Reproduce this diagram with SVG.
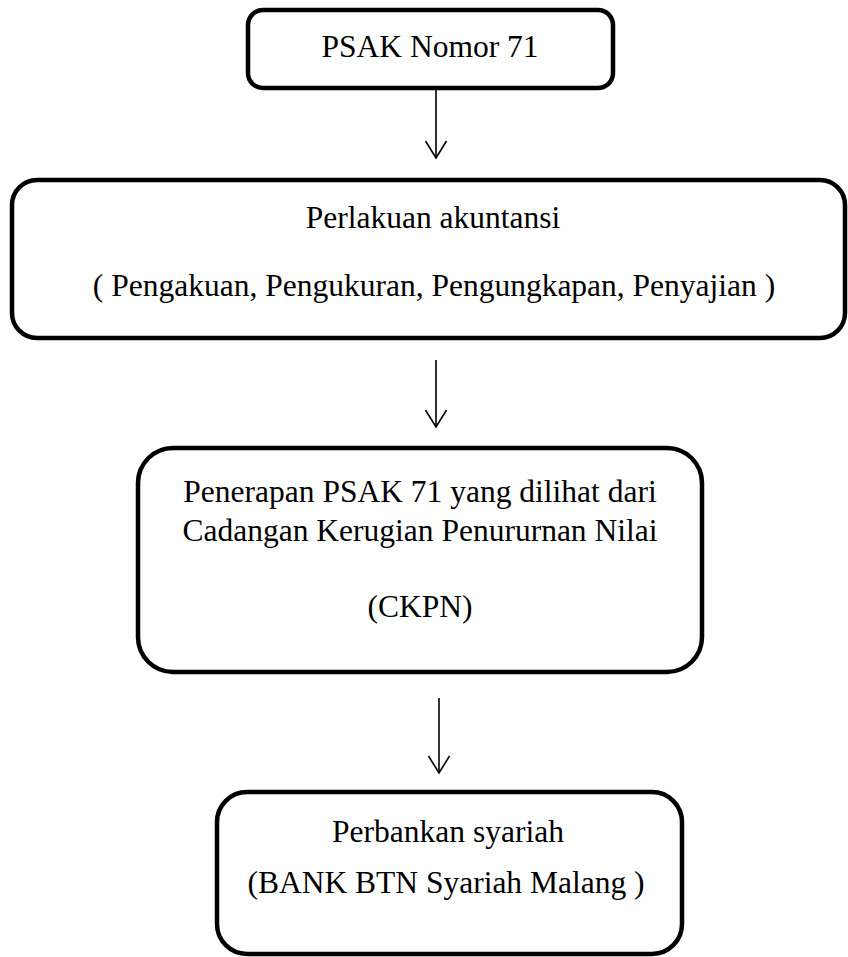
<svg xmlns="http://www.w3.org/2000/svg" width="848" height="957" viewBox="0 0 848 957">
<defs>
<style>
.box{fill:#fff;stroke:#000;stroke-width:4.5}
.t{font-family:"Liberation Serif","Times New Roman",serif;font-size:31.5px;fill:#000;text-anchor:middle}
.c{stroke:#000;stroke-width:1.6;fill:none}
</style>
<marker id="ah" markerWidth="24" markerHeight="20" viewBox="-12 -18 24 20" refX="0" refY="0" orient="auto" markerUnits="userSpaceOnUse">
<path d="M-10.5,-17 L0,0 L10.5,-17" fill="none" stroke="#000" stroke-width="1.6"/>
</marker>
</defs>
<rect width="848" height="957" fill="#fff"/>
<g id="connectors">
<line class="c" x1="436" y1="88" x2="436" y2="158"/>
<path class="c" d="M425.5,141 L436,158 L446.5,141"/>
<line class="c" x1="436" y1="360" x2="436" y2="427"/>
<path class="c" d="M425.5,410 L436,427 L446.5,410"/>
<line class="c" x1="439" y1="698" x2="439" y2="773"/>
<path class="c" d="M428.5,756 L439,773 L449.5,756"/>
</g>
<g id="node1">
<rect class="box" x="248" y="10" width="365" height="78" rx="15"/>
<text class="t" x="430" y="57">PSAK Nomor 71</text>
</g>
<g id="node2">
<rect class="box" x="12" y="180" width="833" height="158" rx="25"/>
<text class="t" x="433" y="228">Perlakuan akuntansi</text>
<text class="t" x="434" y="296">( Pengakuan, Pengukuran, Pengungkapan, Penyajian )</text>
</g>
<g id="node3">
<rect class="box" x="138" y="448" width="564" height="224" rx="35"/>
<text class="t" x="420" y="502">Penerapan PSAK 71 yang dilihat dari</text>
<text class="t" x="420" y="541">Cadangan Kerugian Penururnan Nilai</text>
<text class="t" x="420" y="617">(CKPN)</text>
</g>
<g id="node4">
<rect class="box" x="217" y="792" width="465" height="162" rx="30"/>
<text class="t" x="448" y="842">Perbankan syariah</text>
<text class="t" x="446" y="893">(BANK BTN Syariah Malang )</text>
</g>
</svg>
